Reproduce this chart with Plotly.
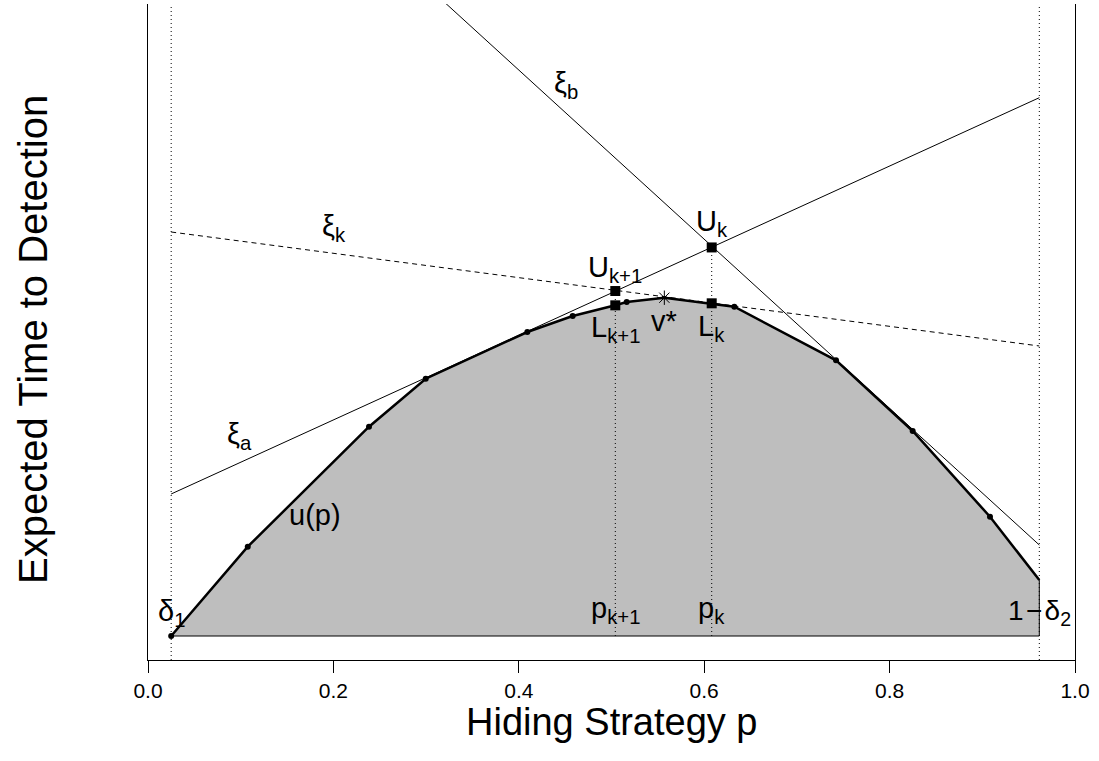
import plotly.graph_objects as go

# ---- data ----
delta1 = 0.025          # left end of feasible strategies
one_minus_delta2 = 0.9615  # right end

p_vals = [0.025, 0.1076, 0.2384, 0.2996, 0.4092, 0.4581, 0.5041, 0.5164,
          0.557, 0.6081, 0.6325, 0.7422, 0.8249, 0.9083, 0.9615]
u_vals = [0.0, 1.469, 3.442, 4.232, 5.0, 5.263, 5.439, 5.493,
          5.564, 5.472, 5.416, 4.535, 3.372, 1.962, 0.921]
dot_idx = [0, 1, 2, 3, 4, 5, 7, 10, 11, 12, 13]

p_k1 = 0.5041
p_k = 0.6081
L_k1 = 5.439
L_k = 5.472
U_k1 = 5.674
U_k = 6.391
v_star_p = 0.557
v_star_u = 5.564

xi_a_x = [0.025, 0.9615]
xi_a_y = [2.336, 8.854]
xi_k_x = [0.025, 0.9615]
xi_k_y = [6.645, 4.770]
xi_b_x = [0.30, 0.9615]
xi_b_y = [10.70, 1.497]

x_ticks = [0.0, 0.2, 0.4, 0.6, 0.8, 1.0]
y_range = [-0.3947, 10.395]

FONT = "Liberation Sans, Arial, Helvetica, sans-serif"
BLACK = "black"

fig = go.Figure()

# shaded region under u(p)
fig.add_trace(go.Scatter(
    x=p_vals + [one_minus_delta2, p_vals[0]],
    y=u_vals + [0, u_vals[0]],
    mode="lines", fill="toself", fillcolor="#BEBEBE",
    line=dict(color=BLACK, width=1), hoverinfo="skip"))

# dotted verticals at p_{k+1}, p_k
for px, uy in [(p_k1, U_k1), (p_k, U_k)]:
    fig.add_trace(go.Scatter(x=[px, px], y=[0, uy], mode="lines",
                             line=dict(color=BLACK, width=1, dash="1px,3px")))

# tangent lines
fig.add_trace(go.Scatter(x=xi_a_x, y=xi_a_y, mode="lines",
                         line=dict(color=BLACK, width=1)))
fig.add_trace(go.Scatter(x=xi_b_x, y=xi_b_y, mode="lines",
                         line=dict(color=BLACK, width=1)))
fig.add_trace(go.Scatter(x=xi_k_x, y=xi_k_y, mode="lines",
                         line=dict(color=BLACK, width=1, dash="5px,4px")))

# u(p) curve
fig.add_trace(go.Scatter(x=p_vals, y=u_vals, mode="lines",
                         line=dict(color=BLACK, width=2.5)))

# small dots at vertices
fig.add_trace(go.Scatter(x=[p_vals[i] for i in dot_idx],
                         y=[u_vals[i] for i in dot_idx], mode="markers",
                         marker=dict(color=BLACK, size=6, symbol="circle")))

# squares
fig.add_trace(go.Scatter(x=[p_k1, p_k, p_k1, p_k], y=[L_k1, L_k, U_k1, U_k],
                         mode="markers",
                         marker=dict(color=BLACK, size=10, symbol="square")))

# v*
fig.add_trace(go.Scatter(x=[v_star_p], y=[v_star_u], mode="markers",
                         marker=dict(color=BLACK, size=12, symbol="asterisk-open",
                                     line=dict(color=BLACK, width=1))))

shapes = []
for xv in [delta1, one_minus_delta2]:
    shapes.append(dict(type="line", xref="x", yref="paper", x0=xv, x1=xv, y0=0, y1=1,
                       line=dict(color=BLACK, width=1, dash="1px,3px")))

LBL = 29
ann = []
def lab(x, y, text, xs=0, ys=0, size=LBL):
    ann.append(dict(x=x, y=y, xref="x", yref="y", text=text, showarrow=False,
                    xshift=xs, yshift=ys, xanchor="center", yanchor="middle",
                    font=dict(family=FONT, size=size, color=BLACK)))

lab(0.451, 9.01, "ξ<sub>b</sub>", ys=3)
lab(0.2006, 6.66, "ξ<sub>k</sub>", ys=3)
lab(0.0992, 3.29, "ξ<sub>a</sub>")
lab(0.180, 1.99, "u(p)")
lab(p_k, U_k, "U<sub>k</sub>", ys=24)
lab(p_k1, U_k1, "U<sub>k+1</sub>", ys=22)
lab(p_k1, L_k1, "L<sub>k+1</sub>", ys=-24)
lab(p_k, L_k, "L<sub>k</sub>", ys=-25)
lab(v_star_p, v_star_u, "v*", xs=0, ys=-23)
lab(p_k1, 0, "p<sub>k+1</sub>", ys=26)
lab(p_k, 0, "p<sub>k</sub>", ys=26)
lab(delta1, 0, "δ<sub>1</sub>", ys=23)
lab(one_minus_delta2, 0, "1\u200a\u2212\u200aδ<sub>2</sub>", ys=24, size=28)

# axis titles
ann.append(dict(x=0.5, y=-0.0945, xref="paper", yref="paper",
                text="Hiding Strategy p", showarrow=False,
                xanchor="center", yanchor="middle",
                font=dict(family=FONT, size=38, color=BLACK)))
ann.append(dict(x=-0.124, y=0.488, xref="paper", yref="paper",
                text="Expected Time to Detection", showarrow=False, textangle=-90,
                xanchor="center", yanchor="middle",
                font=dict(family=FONT, size=40, color=BLACK)))

fig.update_layout(
    width=1099, height=761,
    margin=dict(l=148, r=24, t=4, b=101),
    paper_bgcolor="white", plot_bgcolor="white",
    showlegend=False,
    shapes=shapes, annotations=ann,
    font=dict(family=FONT, color=BLACK),
    xaxis=dict(range=[0, 1], tickvals=x_ticks,
               ticktext=[f"{v:.1f}" for v in x_ticks],
               ticks="outside", ticklen=12, tickwidth=1, tickcolor=BLACK,
               showline=True, linecolor=BLACK, linewidth=1,
               showgrid=False, zeroline=False,
               tickfont=dict(family=FONT, size=21, color=BLACK)),
    yaxis=dict(range=y_range, showticklabels=False, ticks="",
               showline=True, mirror=True, linecolor=BLACK, linewidth=1,
               showgrid=False, zeroline=False),
)

fig.write_html("out.html", config={"displayModeBar": False},
               post_script="document.body.style.margin='0px';document.body.style.padding='0px';")
